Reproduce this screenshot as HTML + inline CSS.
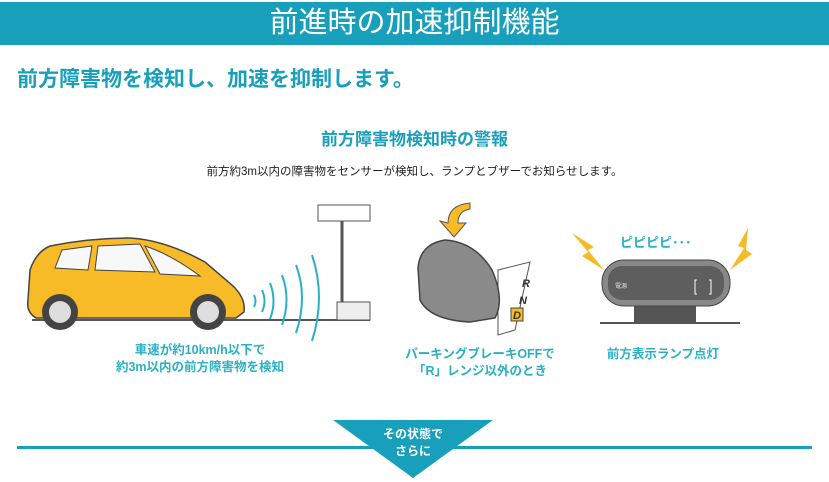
<!DOCTYPE html>
<html><head><meta charset="utf-8"><style>
body{margin:0;width:829px;height:482px;overflow:hidden;background:#fff;font-family:"Liberation Sans","Noto Sans CJK JP",sans-serif;position:relative}
.t{position:absolute;white-space:nowrap}
</style></head><body>
<div style="position:absolute;left:0;top:2px;width:829px;height:43px;background:#189fbb"></div>
<div class="t" style="left:0;width:829px;top:4px;text-align:center;color:#fff;font-size:29px;line-height:38px">前進時の加速抑制機能</div>
<div class="t" style="left:17px;top:66px;color:#189fbb;font-size:21px;font-weight:bold;line-height:28px">前方障害物を検知し、加速を抑制します。</div>
<div class="t" style="left:0;width:829px;top:128px;text-align:center;color:#189fbb;font-size:17px;font-weight:bold;line-height:24px">前方障害物検知時の警報</div>
<div class="t" style="left:0;width:829px;top:164px;text-align:center;color:#222;font-size:11.5px;line-height:16px">前方約3m以内の障害物をセンサーが検知し、ランプとブザーでお知らせします。</div>
<svg width="829" height="482" style="position:absolute;left:0;top:0">
<line x1="32" y1="320" x2="370" y2="320" stroke="#555" stroke-width="2"/>
<path d="M28,300 L30,270 Q36,252 50,246 Q90,238 130,238 Q165,240 205,262 L232,285 Q246,298 244,312 L236,318 L36,318 Q26,312 28,300Z" fill="#f6bb26" stroke="#444" stroke-width="1.5"/>
<path d="M62,250 L92,246 L88,270 L55,268Z M98,246 L140,244 L155,272 L95,270Z M145,246 Q170,254 200,276 L160,274Z" fill="#f8f8f8" stroke="#444"/>
<circle cx="60" cy="312" r="18" fill="#444"/><circle cx="60" cy="312" r="11" fill="#ddd"/>
<circle cx="208" cy="312" r="18" fill="#444"/><circle cx="208" cy="312" r="11" fill="#ddd"/>
<g fill="none" stroke="#2ab0c4" stroke-width="2">
<path d="M254,295 q3,6 0,12"/><path d="M262,290 q5,11 0,22"/><path d="M270,283 q7,18 0,36"/><path d="M282,275 q9,24 0,50"/><path d="M296,265 q12,32 0,68"/><path d="M312,255 q14,42 0,86"/></g>
<rect x="318" y="205" width="52" height="16" fill="#fff" stroke="#555"/>
<line x1="342" y1="221" x2="342" y2="302" stroke="#555" stroke-width="3"/>
<rect x="337" y="302" width="33" height="18" fill="#eee" stroke="#555"/>
<path d="M470,203 q-22,2 -22,20 l-8,-2 l14,16 l12,-14 l-8,0 q0,-12 12,-14z" fill="#f6bb26" stroke="#555"/>
<path d="M498,270 L530,262 L515,330 L498,335Z" fill="#fff" stroke="#555"/>
<path d="M418,268 Q420,244 445,240 Q475,242 492,270 Q505,300 495,318 L470,322 Q430,320 420,300Z" fill="#8a8a8a" stroke="#444" stroke-width="1.5"/>
<text x="522" y="287" font-size="11" font-weight="bold" fill="#333" font-style="italic">R</text>
<text x="519" y="304" font-size="11" font-weight="bold" fill="#333" font-style="italic">N</text>
<rect x="511" y="308" width="12" height="13" fill="#f6bb26" stroke="#444"/>
<text x="513" y="319" font-size="11" font-weight="bold" fill="#333" font-style="italic">D</text>
<rect x="634" y="302" width="62" height="22" fill="#555"/>
<rect x="600" y="322" width="140" height="2" fill="#555"/>
<rect x="602" y="260" width="128" height="46" rx="22" fill="#888" stroke="#444"/>
<rect x="608" y="266" width="116" height="34" rx="14" fill="#5e5e5e"/>
<text x="615" y="288" font-size="6" fill="#ddd">電源</text>
<path d="M697,280 h-2 v14 h2 M709,280 h2 v14 h-2" stroke="#fff" fill="none"/>
<path d="M572,233 l22,14 l-6,3 l16,20 l-22,-14 l6,-4z" fill="#f6bb26"/>
<path d="M748,228 l-10,18 l6,2 l-14,22 l22,-16 l-6,-4z" fill="#f6bb26"/>
<text x="620" y="247" font-size="13" font-weight="bold" fill="#2ab0c4">ピピピピ･･･</text>
<rect x="17" y="446" width="795" height="3" fill="#189fbb"/>
<path d="M333,420 L493,420 L413,478Z" fill="#189fbb"/>
<text x="413" y="438" font-size="12" fill="#fff" text-anchor="middle" font-weight="bold">その状態で</text>
<text x="413" y="455" font-size="12" fill="#fff" text-anchor="middle" font-weight="bold">さらに</text>
</svg>
<div class="t" style="left:100px;width:200px;top:342px;text-align:center;color:#2ab0c4;font-size:12.5px;font-weight:bold;line-height:17px">車速が約10km/h以下で<br>約3m以内の前方障害物を検知</div>
<div class="t" style="left:380px;width:200px;top:346px;text-align:center;color:#2ab0c4;font-size:12.5px;font-weight:bold;line-height:17px">パーキングブレーキOFFで<br>「R」レンジ以外のとき</div>
<div class="t" style="left:563px;width:200px;top:346px;text-align:center;color:#2ab0c4;font-size:12.5px;font-weight:bold;line-height:17px">前方表示ランプ点灯</div>
</body></html>
